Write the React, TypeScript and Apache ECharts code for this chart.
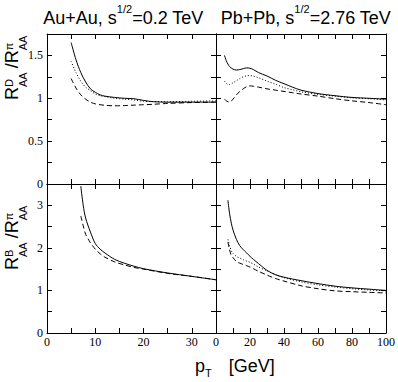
import React, { useEffect, useRef } from 'react';
import * as echarts from 'echarts';

// ---------- data ----------
// D-meson / pion, RHIC (Au+Au 0.2 TeV)
const ptDRhic = [5, 6, 7, 8, 9, 10, 11, 12, 14, 16, 18, 20, 22, 25, 30, 35];
const dRhicSolid = [1.65, 1.45, 1.30, 1.19, 1.11, 1.07, 1.04, 1.025, 1.01, 1.0, 0.995, 0.975, 0.96, 0.955, 0.955, 0.955];
const dRhicDotted = [1.43, 1.30, 1.20, 1.13, 1.09, 1.05, 1.03, 1.02, 1.0, 0.99, 0.98, 0.965, 0.962, 0.96, 0.965, 0.97];
const dRhicDashed = [1.23, 1.12, 1.04, 0.99, 0.955, 0.935, 0.925, 0.918, 0.912, 0.915, 0.92, 0.925, 0.93, 0.94, 0.95, 0.955];

// D-meson / pion, LHC (Pb+Pb 2.76 TeV)
const ptDLhc = [5, 6, 7, 8, 10, 12, 14, 16, 18, 20, 22, 25, 30, 35, 40, 45, 50, 60, 70, 80, 90, 100];
const dLhcSolid = [1.50, 1.44, 1.40, 1.37, 1.34, 1.33, 1.335, 1.345, 1.355, 1.35, 1.335, 1.30, 1.26, 1.21, 1.17, 1.13, 1.095, 1.055, 1.03, 1.01, 1.0, 0.99];
const dLhcDotted = [1.20, 1.175, 1.16, 1.16, 1.18, 1.205, 1.23, 1.25, 1.262, 1.265, 1.258, 1.24, 1.20, 1.165, 1.125, 1.10, 1.075, 1.045, 1.025, 1.005, 0.995, 0.98];
const dLhcDashed = [0.99, 0.97, 0.96, 0.955, 0.99, 1.04, 1.08, 1.11, 1.135, 1.145, 1.14, 1.13, 1.11, 1.095, 1.08, 1.065, 1.05, 1.025, 0.995, 0.97, 0.95, 0.925];

// B-meson / pion, RHIC
const ptBRhic = [7, 7.5, 8, 9, 10, 11, 12, 14, 16, 18, 20, 25, 30, 35];
const bRhicSolid = [3.45, 3.0, 2.7, 2.37, 2.1, 1.97, 1.88, 1.73, 1.64, 1.57, 1.51, 1.41, 1.33, 1.25];
const bRhicDashed = [2.75, 2.52, 2.32, 2.12, 1.97, 1.86, 1.78, 1.67, 1.6, 1.54, 1.5, 1.4, 1.33, 1.25];

// B-meson / pion, LHC
const ptBLhc = [7, 8, 9, 10, 12, 14, 16, 18, 20, 22, 25, 30, 35, 40, 50, 60, 70, 80, 90, 100];
const bLhcSolid = [3.12, 2.8, 2.58, 2.42, 2.2, 2.05, 1.96, 1.88, 1.80, 1.73, 1.63, 1.47, 1.37, 1.31, 1.23, 1.16, 1.1, 1.06, 1.03, 1.0];
const bLhcDotted = [2.2, 2.05, 1.93, 1.87, 1.8, 1.76, 1.72, 1.69, 1.66, 1.62, 1.55, 1.46, 1.37, 1.30, 1.2, 1.13, 1.08, 1.04, 1.01, 0.99];
const bLhcDashed = [2.14, 1.95, 1.82, 1.77, 1.68, 1.64, 1.61, 1.58, 1.55, 1.51, 1.45, 1.36, 1.28, 1.22, 1.11, 1.04, 0.99, 0.97, 0.955, 0.94];

// tick settings
const xLeftTicks = { min: 0, max: 35, step: 5, labelEvery: 10 };
const xRightTicks = { min: 0, max: 100, step: 10, labelEvery: 20 };
const yTopTicks = { min: 0, max: 1.75, step: 0.25, labelEvery: 0.5 };
const yBottomTicks = { min: 0, max: 3.5, step: 0.5, labelEvery: 1 };

const titleLeft = ['Au+Au, s', '1/2', '=0.2 TeV'];
const titleRight = ['Pb+Pb, s', '1/2', '=2.76 TeV'];

const SANS = 'Liberation Sans';
const SERIF = 'Liberation Serif';

let measureCtx: CanvasRenderingContext2D | null = null;
function measure(text: string, size: number, fam: string): number {
  if (!measureCtx) measureCtx = document.createElement('canvas').getContext('2d');
  measureCtx!.font = `${size}px "${fam}"`;
  return measureCtx!.measureText(text).width;
}

type Item = { t: string; s: number; dy: number; w?: number };
function layout(slots: Item[][], fam: string) {
  const els: any[] = [];
  let x = 0;
  for (const slot of slots) {
    let w = 0;
    for (const it of slot) {
      const iw = it.w !== undefined ? it.w : measure(it.t, it.s, fam);
      w = Math.max(w, iw);
      if (it.t) {
        els.push({
          type: 'text',
          x,
          y: it.dy - 0.3465 * it.s,
          silent: true,
          style: {
            text: it.t,
            fontSize: it.s,
            fontFamily: fam,
            fill: '#000',
            textAlign: 'left',
            textVerticalAlign: 'middle',
            verticalAlign: 'middle',
          },
        });
      }
    }
    x += w;
  }
  return { els, width: x };
}

function ratioLabel(sup: string): Item[][] {
  return [
    [{ t: 'R', s: 18, dy: 0 }],
    [{ t: sup, s: 11, dy: -5 }, { t: 'AA', s: 11, dy: 9 }],
    [{ t: '', s: 0, dy: 0, w: 4 }],
    [{ t: '/', s: 18, dy: 0 }],
    [{ t: 'R', s: 18, dy: 0 }],
    [{ t: 'π', s: 11, dy: -5 }, { t: 'AA', s: 11, dy: 9 }],
  ];
}

function titleGroup(parts: string[], cx: number, baseline: number) {
  const l = layout(
    [[{ t: parts[0], s: 18, dy: 0 }], [{ t: parts[1], s: 11, dy: -11 }], [{ t: parts[2], s: 18, dy: 0 }]],
    SANS
  );
  return { type: 'group', x: cx - l.width / 2, y: baseline, children: l.els };
}

const fmt = (every: number) => (v: number) => {
  const r = v / every;
  return Math.abs(r - Math.round(r)) < 1e-6 ? String(+v.toFixed(2)) : '';
};

export default function App() {
  const ref = useRef<HTMLDivElement>(null);
  useEffect(() => {
    if (!ref.current) return;
    const chart = echarts.init(ref.current, undefined, { renderer: 'svg' });

    const grids = [
      { left: 47, top: 34, width: 169, height: 150 },
      { left: 216, top: 34, width: 170, height: 150 },
      { left: 47, top: 184, width: 169, height: 149 },
      { left: 216, top: 184, width: 170, height: 149 },
    ];
    const xT = [xLeftTicks, xRightTicks, xLeftTicks, xRightTicks];
    const yT = [yTopTicks, yTopTicks, yBottomTicks, yBottomTicks];

    const line = { show: true, onZero: false, lineStyle: { color: '#000', width: 1 } };
    const tick = { show: true, inside: true, length: 5, lineStyle: { color: '#000', width: 1 } };
    const labelStyle = { color: '#000', fontFamily: SERIF, fontSize: 12, fontWeight: 'normal' };

    const xAxes: any[] = [];
    const yAxes: any[] = [];
    for (const pos of ['bottom', 'top']) {
      for (let i = 0; i < 4; i++) {
        const t = xT[i];
        xAxes.push({
          type: 'value', gridIndex: i, position: pos, min: t.min, max: t.max, interval: t.step,
          axisLine: line, axisTick: tick, splitLine: { show: false },
          axisLabel: {
            show: pos === 'bottom' && i >= 2, margin: 3, ...labelStyle,
            formatter: fmt(t.labelEvery), showMinLabel: true, showMaxLabel: true,
          },
        });
      }
    }
    for (const pos of ['left', 'right']) {
      for (let i = 0; i < 4; i++) {
        const t = yT[i];
        yAxes.push({
          type: 'value', gridIndex: i, position: pos, min: t.min, max: t.max, interval: t.step,
          axisLine: line, axisTick: tick, splitLine: { show: false },
          axisLabel: {
            show: pos === 'left' && (i === 0 || i === 2), margin: 4, ...labelStyle,
            formatter: fmt(t.labelEvery), showMinLabel: true, showMaxLabel: true,
          },
        });
      }
    }

    const mk = (xs: number[], ys: number[], gi: number, type: any) => ({
      type: 'line', xAxisIndex: gi, yAxisIndex: gi,
      data: xs.map((x, k) => [x, ys[k]]),
      showSymbol: false, symbol: 'none', smooth: 0.3, silent: true, clip: true,
      lineStyle: { color: '#000', width: 1, type },
    });
    const SOLID = 'solid';
    const DOT = [1, 2];
    const DASH = [5, 3];

    const yLabTop = layout(ratioLabel('D'), SANS);
    const yLabBot = layout(ratioLabel('B'), SANS);
    const xTitle = layout(
      [[{ t: 'p', s: 18, dy: 0 }], [{ t: 'T', s: 11, dy: 5 }], [{ t: '', s: 0, dy: 0, w: 17 }], [{ t: '[GeV]', s: 18, dy: 0 }]],
      SANS
    );

    chart.setOption({
      animation: false,
      textStyle: { fontFamily: SERIF },
      grid: grids.map((g) => ({ ...g, containLabel: false })),
      xAxis: xAxes,
      yAxis: yAxes,
      series: [
        mk(ptDRhic, dRhicSolid, 0, SOLID),
        mk(ptDRhic, dRhicDotted, 0, DOT),
        mk(ptDRhic, dRhicDashed, 0, DASH),
        mk(ptDLhc, dLhcSolid, 1, SOLID),
        mk(ptDLhc, dLhcDotted, 1, DOT),
        mk(ptDLhc, dLhcDashed, 1, DASH),
        mk(ptBRhic, bRhicSolid, 2, SOLID),
        mk(ptBRhic, bRhicDashed, 2, DASH),
        mk(ptBLhc, bLhcSolid, 3, SOLID),
        mk(ptBLhc, bLhcDotted, 3, DOT),
        mk(ptBLhc, bLhcDashed, 3, DASH),
      ],
      graphic: {
        elements: [
          titleGroup(titleLeft, 123.5, 24),
          titleGroup(titleRight, 306, 24),
          { type: 'group', x: 18, y: 100, rotation: Math.PI / 2, children: yLabTop.els },
          { type: 'group', x: 18, y: 270, rotation: Math.PI / 2, children: yLabBot.els },
          { type: 'group', x: 195, y: 372, children: xTitle.els },
        ],
      },
    });
    return () => chart.dispose();
  }, []);
  return (
    <div
      ref={ref}
      style={{ position: 'absolute', left: 0, top: 0, width: 398, height: 382, background: '#fff' }}
    />
  );
}
